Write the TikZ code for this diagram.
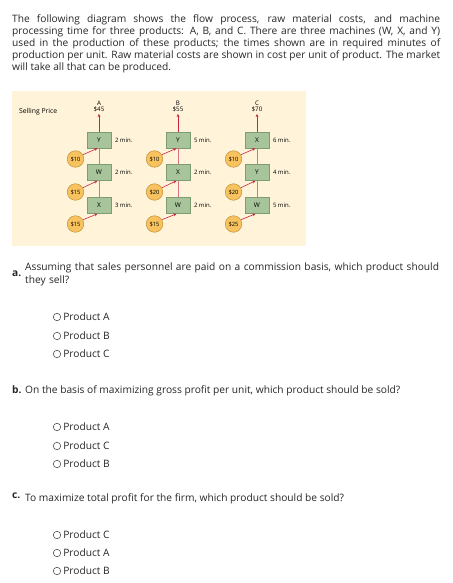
\documentclass[tikz,border=0pt]{standalone}
\usepackage{fontspec}
\setmainfont{Open Sans}
\usetikzlibrary{positioning,arrows.meta}
\definecolor{panel}{HTML}{FFF4DA}
\definecolor{boxfill}{HTML}{A8C49A}
\definecolor{boxline}{HTML}{7E9C72}
\definecolor{coin}{HTML}{F8C25E}
\definecolor{coinline}{HTML}{C99A45}
\definecolor{flow}{HTML}{C8243F}
\definecolor{radio}{HTML}{555555}
\begin{document}
\begin{tikzpicture}[x=1pt,y=-1pt,>={Stealth[length=3.2pt,width=2.8pt]},
  machine/.style={draw=boxline, fill=boxfill, line width=0.6pt, minimum width=24pt, minimum height=16pt, inner sep=0pt, font=\fontsize{6.5}{7}\selectfont},
  cost/.style={circle, draw=coinline, fill=coin, line width=0.6pt, minimum size=16.5pt, inner sep=0pt, font=\fontsize{5.8}{6}\selectfont},
  mins/.style={right=3.5pt, font=\fontsize{6}{7}\selectfont, inner sep=0pt},
  feed/.style={->, flow, line width=0.6pt},
  trunk/.style={flow!65, line width=0.7pt},
  body/.style={anchor=north west, inner sep=0pt, font=\fontsize{10.2}{12.2}\selectfont, text=black!85},
  choice/.style={circle, draw=radio, line width=0.6pt, minimum size=7.5pt, inner sep=0pt},
  pick/.style={right=2pt, inner sep=0pt, font=\fontsize{10.2}{11}\selectfont, text=black!85}]
  \useasboundingbox (0,0) rectangle (452,583);
  \node[body, text width=428pt, align=justify] (intro) at (12,14) {The following diagram shows the flow process, raw material costs, and machine\linebreak processing time for three products: A, B, and C. There are three machines (W, X, and Y)\linebreak used in the production of these products; the times shown are in required minutes of\linebreak production per unit. Raw material costs are shown in cost per unit of product. The market\linebreak will take all that can be produced.};
  % flow diagram
  \fill[panel] (12,91) rectangle (306,246);
  \node[inner sep=0pt, font=\fontsize{6.8}{7}\selectfont, anchor=west] (sp) at (19,112) {Selling Price};
  \foreach \p/\x/\price/\ma/\ta/\mb/\tb/\mc/\tc/\ca/\cb/\cc in
    {A/99/45/Y/2/W/2/X/3/10/15/15,
     B/178/55/Y/5/X/2/W/2/10/20/15,
     C/257/70/X/6/Y/4/W/5/10/20/25} {
    \node[inner sep=0pt, font=\fontsize{6.2}{6.5}\selectfont, align=center] (\p-top) at (\x,106.5) {\p\\\$\price};
    \node[machine] (\p-1) at (\x,140) {\ma};
    \node[machine] (\p-2) at (\x,172.5) {\mb};
    \node[machine] (\p-3) at (\x,205.5) {\mc};
    \node[mins] at (\p-1.east) {\ta\ min.};
    \node[mins] at (\p-2.east) {\tb\ min.};
    \node[mins] at (\p-3.east) {\tc\ min.};
    \node[cost] (\p-c1) at (\x-23.5,159) {\$\ca};
    \node[cost] (\p-c2) at (\x-23.5,192) {\$\cb};
    \node[cost] (\p-c3) at (\x-23.5,224) {\$\cc};
    \draw[trunk] (\p-3) -- (\p-2) (\p-2) -- (\p-1);
    \draw[trunk, ->, flow] (\p-1) -- ([yshift=-1.5pt]\p-top.south);
    \draw[feed] (\p-c1.30) -- ([xshift=-1.5pt]\p-1.south);
    \draw[feed] (\p-c2.30) -- ([xshift=-1.5pt]\p-2.south);
    \draw[feed] (\p-c3.30) -- ([xshift=-1.5pt]\p-3.south);
  }
  % part a
  \node[body, font=\bfseries\fontsize{10.2}{12}\selectfont] (qa) at (12,271) {a.};
  \node[body, text width=422pt, align=left] (qa-text) at (25,263) {Assuming that sales personnel are paid on a commission basis, which product should they sell?};
  \node[choice] (a1) at (57,317) {};
  \node[pick] at (a1.east) {Product A};
  \node[choice] (a2) at (57,336) {};
  \node[pick] at (a2.east) {Product B};
  \node[choice] (a3) at (57,354) {};
  \node[pick] at (a3.east) {Product C};
  % part b
  \node[body, font=\bfseries\fontsize{10.2}{12}\selectfont] (qb) at (12,385.5) {b.};
  \node[body] (qb-text) at (25,385.5) {On the basis of maximizing gross profit per unit, which product should be sold?};
  \node[choice] (b1) at (57,427) {};
  \node[pick] at (b1.east) {Product A};
  \node[choice] (b2) at (57,446) {};
  \node[pick] at (b2.east) {Product C};
  \node[choice] (b3) at (57,464) {};
  \node[pick] at (b3.east) {Product B};
  % part c
  \node[body, font=\bfseries\fontsize{10.2}{12}\selectfont] (qc) at (12,493) {c.};
  \node[body] (qc-text) at (25,493) {To maximize total profit for the firm, which product should be sold?};
  \node[choice] (c1) at (57,535) {};
  \node[pick] at (c1.east) {Product C};
  \node[choice] (c2) at (57,553) {};
  \node[pick] at (c2.east) {Product A};
  \node[choice] (c3) at (57,571) {};
  \node[pick] at (c3.east) {Product B};
\end{tikzpicture}
\end{document}
